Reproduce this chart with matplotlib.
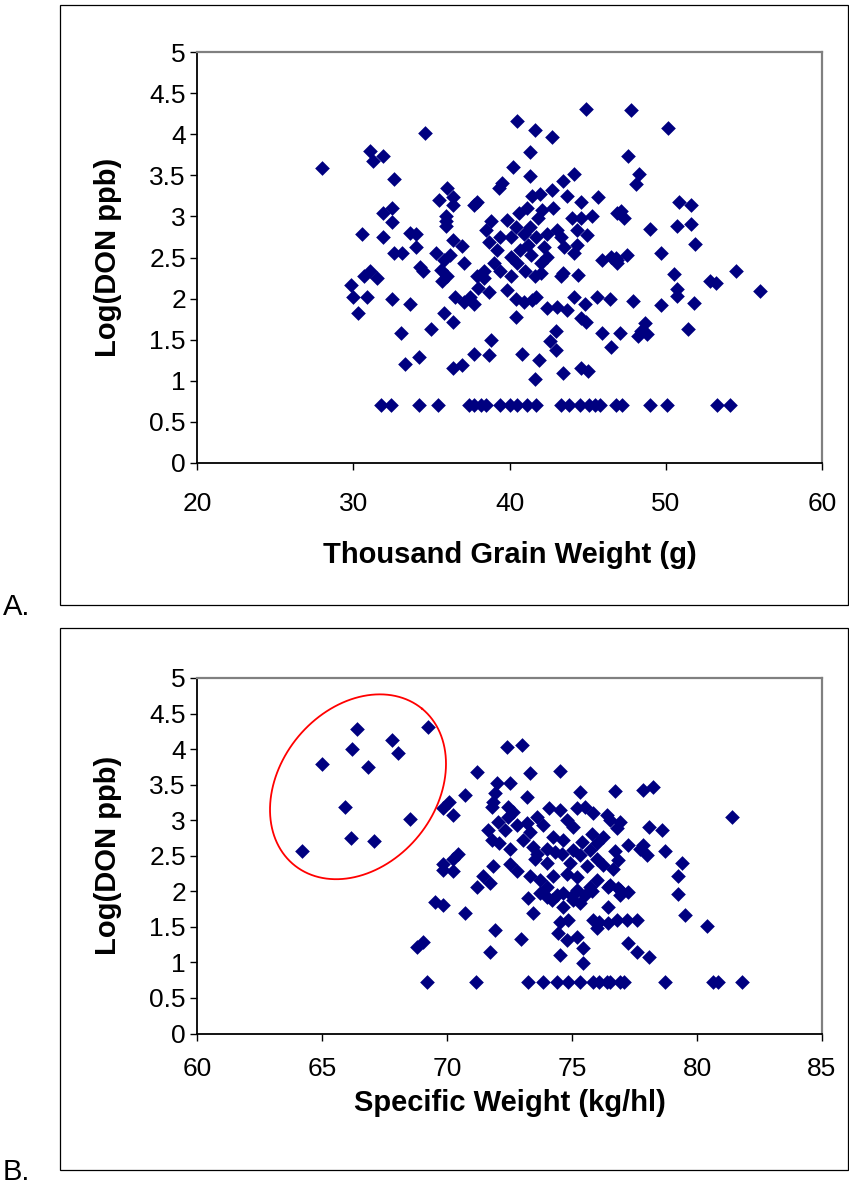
import numpy as np
import matplotlib
matplotlib.use("Agg")
import matplotlib.pyplot as plt
from matplotlib.patches import Rectangle

plt.rcParams['font.family'] = ['Liberation Sans', 'DejaVu Sans']

# ---------------- Panel A data: Thousand Grain Weight vs Log(DON) ----------------
tgw_x = [28.0, 31.1, 31.26, 31.9, 32.6, 31.9, 32.5, 32.5, 30.56, 31.9, 33.65, 32.6, 33.1,
         31.1, 31.5, 30.66, 29.85, 29.96, 30.3, 30.9, 32.5, 33.6, 33.06, 33.3, 34.2, 34.6,
         34.0, 34.0, 35.3, 34.3, 34.45, 35.6, 35.7, 36.0, 36.0, 35.5, 36.4, 36.4, 37.7, 37.9,
         35.96, 35.96, 35.96, 36.4, 36.97, 36.2, 35.8, 37.1, 35.0, 35.8, 36.4, 36.5, 37.07,
         37.5, 37.7, 38.0, 38.35, 38.7, 37.9, 36.4, 36.97, 37.7, 38.7, 38.8,
         40.5, 41.6, 42.7, 44.9, 41.3, 40.2, 41.3, 39.5, 39.3, 44.1, 43.4,
         41.45, 41.98, 42.7, 43.7, 44.55, 45.66,
         38.8, 38.5, 38.7, 39.4, 39.85, 39.2, 39.0, 39.4, 40.1, 40.1, 40.6, 41.1, 40.4, 40.9,
         41.3, 41.8, 41.7, 41.2, 40.7, 40.5, 41.4, 42.0, 42.4, 42.2, 42.4, 43.05, 42.8, 42.1,
         43.3, 43.5, 44.0, 44.55, 44.98, 44.3, 45.3, 44.1, 44.3, 43.4, 44.4, 38.35, 41.6, 41.0,
         40.1, 39.85, 40.4, 40.9, 41.45, 41.7, 42.0, 40.4, 42.4, 43.05, 43.7, 43.3,
         44.1, 44.8, 45.6, 46.4, 44.55, 44.9, 42.95, 42.6, 42.95, 45.9, 46.5,
         40.8, 41.9, 41.6, 43.4, 44.55, 45.0,
         47.76, 50.15, 47.6, 48.3, 48.1, 47.16, 47.3, 50.85, 51.6, 50.75, 51.6, 49.0, 51.9,
         49.7, 45.9, 46.5, 46.9, 46.9, 47.5, 46.9, 46.8, 50.5, 52.8, 53.2, 54.5, 50.7, 56.0,
         47.9, 50.7, 49.7, 51.8, 48.7, 48.4, 48.2, 48.8, 51.4, 47.07,
         31.8, 32.4, 34.2, 35.4, 37.4, 37.7, 38.2, 38.5, 39.4, 40.0, 40.5, 41.1, 41.7, 43.3,
         43.8, 44.5, 45.1, 45.5, 45.8, 46.8, 47.2, 49.0, 50.1, 53.3, 54.1]
tgw_y = [3.59, 3.79, 3.67, 3.73, 3.46, 3.04, 3.10, 2.93, 2.79, 2.75, 2.80, 2.56, 2.56,
         2.33, 2.25, 2.27, 2.17, 2.02, 1.82, 2.02, 2.00, 1.94, 1.58, 1.20, 1.29, 4.02,
         2.79, 2.63, 2.55, 2.39, 2.33, 2.35, 2.21, 2.27, 3.35, 3.20, 3.24, 3.14, 3.14, 3.18,
         3.00, 2.94, 2.88, 2.71, 2.64, 2.53, 2.47, 2.43, 1.63, 1.82, 1.72, 2.02, 1.96,
         2.02, 1.94, 2.13, 2.25, 2.08, 2.27, 1.15, 1.19, 1.33, 1.31, 1.50,
         4.16, 4.05, 3.97, 4.31, 3.78, 3.60, 3.49, 3.41, 3.35, 3.52, 3.43,
         3.25, 3.27, 3.32, 3.25, 3.17, 3.23,
         2.94, 2.83, 2.69, 2.75, 2.96, 2.59, 2.43, 2.33, 2.51, 2.75, 3.04, 3.10, 2.87, 2.79,
         2.87, 2.98, 2.75, 2.65, 2.59, 2.43, 2.53, 2.43, 2.51, 2.63, 2.79, 2.83, 3.10, 3.08,
         2.75, 2.63, 2.98, 2.98, 2.77, 2.83, 3.00, 2.55, 2.65, 2.31, 2.29, 2.33, 2.27, 2.33,
         2.27, 2.10, 2.00, 1.96, 1.98, 2.02, 2.31, 1.78, 1.88, 1.90, 1.86, 2.27,
         2.02, 1.94, 2.02, 2.00, 1.76, 1.72, 1.60, 1.48, 1.37, 1.58, 1.41,
         1.33, 1.25, 1.02, 1.10, 1.15, 1.12,
         4.29, 4.07, 3.73, 3.52, 3.40, 3.06, 2.98, 3.17, 3.14, 2.88, 2.91, 2.85, 2.66,
         2.56, 2.47, 2.51, 2.47, 3.04, 2.53, 2.43, 2.49, 2.30, 2.22, 2.19, 2.33, 2.12, 2.09,
         1.97, 2.03, 1.92, 1.95, 1.70, 1.60, 1.54, 1.57, 1.63, 1.58,
         0.70, 0.70, 0.70, 0.70, 0.70, 0.70, 0.70, 0.70, 0.70, 0.70, 0.70, 0.70, 0.70, 0.70,
         0.70, 0.70, 0.70, 0.70, 0.70, 0.70, 0.70, 0.70, 0.70, 0.70, 0.70]

# ---------------- Panel B data: Specific Weight vs Log(DON) ----------------
sw_x = [64.2, 65.0, 65.9, 66.15, 66.2, 66.41, 66.85, 67.1, 67.8, 68.05, 68.5, 69.24,
        72.4, 72.99, 71.2, 73.3, 74.5, 71.99, 72.5, 71.9, 70.7, 73.2, 75.3, 70.1, 69.85, 70.25,
        71.85, 71.8, 72.45, 72.65, 72.45, 74.1, 74.5, 75.2, 75.5, 75.85, 76.4,
        72.05, 72.3, 72.8, 73.2, 73.3, 73.85, 74.8, 75.05, 71.65, 71.8, 72.1, 72.5, 73.05,
        73.45, 73.6, 74.25, 74.65, 74.6, 75.05, 75.3, 75.7, 75.99, 76.25,
        69.85, 70.25, 70.45, 70.25, 71.85, 72.5, 72.8, 71.45, 71.7, 71.2, 73.3, 73.7, 73.99,
        74.25, 74.8, 74.65, 75.2, 75.7, 75.99, 73.7, 73.99,
        76.7, 77.85, 78.25, 81.4, 76.5, 76.9, 76.8, 78.1, 78.6, 77.25, 77.7, 77.85, 78.0,
        78.7, 76.7, 76.85, 76.25, 76.65, 79.4, 79.25, 79.25, 76.45, 76.9, 77.25,
        79.5, 80.4, 76.5, 76.85, 76.9, 76.45, 76.1, 76.45, 76.8, 77.2, 77.6, 77.25, 77.6, 78.1,
        69.5, 69.85, 68.8, 69.05, 70.7, 71.9, 71.7, 72.95, 73.45, 73.25, 74.5, 74.85, 74.5,
        74.45, 74.8, 75.2, 75.45, 75.45, 74.65, 75.05, 75.3, 75.85, 75.99, 69.85,
        74.4, 75.0, 75.5, 75.8, 74.2, 73.5, 74.0, 74.3, 75.6, 75.2, 74.0, 75.8, 74.9, 73.6,
        75.4, 76.0,
        69.2, 71.15, 73.25, 73.85, 74.4, 74.85, 75.3, 75.85, 76.1, 76.4, 76.5, 76.9, 77.1,
        78.7, 80.65, 80.85, 81.8]
sw_y = [2.56, 3.79, 3.18, 2.75, 4.00, 4.28, 3.75, 2.71, 4.13, 3.94, 3.02, 4.31,
        4.03, 4.06, 3.68, 3.66, 3.69, 3.52, 3.52, 3.38, 3.35, 3.33, 3.39, 3.26, 3.17, 3.07,
        3.26, 3.19, 3.19, 3.12, 3.05, 3.17, 3.14, 3.17, 3.19, 3.10, 3.07,
        2.98, 2.86, 2.93, 2.96, 2.84, 2.93, 3.00, 2.91, 2.86, 2.72, 2.68, 2.60, 2.72,
        2.63, 2.53, 2.77, 2.72, 2.53, 2.58, 2.51, 2.58, 2.68, 2.77,
        2.39, 2.46, 2.53, 2.28, 2.35, 2.39, 2.28, 2.21, 2.11, 2.06, 2.21, 2.16, 2.06,
        2.21, 2.25, 1.97, 2.02, 2.06, 2.16, 1.97, 1.92,
        3.41, 3.42, 3.47, 3.05, 3.00, 2.98, 2.89, 2.90, 2.86, 2.65, 2.60, 2.65, 2.51,
        2.56, 2.56, 2.44, 2.37, 2.32, 2.40, 2.22, 1.96, 2.06, 2.02, 1.99,
        1.67, 1.51, 2.09, 2.04, 1.95, 1.78, 1.57, 1.55, 1.60, 1.60, 1.60, 1.27, 1.14, 1.07,
        1.85, 1.81, 1.22, 1.28, 1.69, 1.46, 1.15, 1.33, 1.69, 1.90, 1.57, 1.60, 1.10,
        1.42, 1.31, 1.36, 1.20, 0.99, 1.78, 1.88, 1.83, 1.60, 1.48, 2.30,
        1.95, 1.93, 1.95, 2.00, 1.88, 2.45, 2.40, 2.55, 2.35, 2.20, 2.60, 2.80, 2.40, 3.05,
        2.70, 2.45,
        0.72, 0.72, 0.72, 0.72, 0.72, 0.72, 0.72, 0.72, 0.72, 0.72, 0.72, 0.72, 0.72,
        0.72, 0.72, 0.72, 0.72]

y_ticks = [0, 0.5, 1, 1.5, 2, 2.5, 3, 3.5, 4, 4.5, 5]
y_tick_labels = ["0", "0.5", "1", "1.5", "2", "2.5", "3", "3.5", "4", "4.5", "5"]
tgw_ticks = [20, 30, 40, 50, 60]
sw_ticks = [60, 65, 70, 75, 80, 85]

# highlighted group in panel B (ellipse: centre, semi-axes in display px, angle)
ell_center = (66.44, 3.47)
ell_axes_px = (101, 78)
ell_angle = 50.6

W, H = 849, 1188
fig = plt.figure(figsize=(W / 100, H / 100), dpi=100)

navy = '#000080'
TICK_FS = 19
LABEL_FS = 21


def style_axes(ax, xpad):
    for s in ['top', 'right']:
        ax.spines[s].set_color('#808080')
        ax.spines[s].set_linewidth(1.6)
    for s in ['left', 'bottom']:
        ax.spines[s].set_color('#000000')
        ax.spines[s].set_linewidth(1.3)
    ax.tick_params(direction='out', length=5, width=1.0, labelsize=TICK_FS, colors='black')
    ax.tick_params(axis='y', pad=3)
    ax.tick_params(axis='x', pad=xpad)
    ax.set_yticks(y_ticks)
    ax.set_yticklabels(y_tick_labels)
    ax.set_ylim(0, 5)
    ax.set_ylabel("Log(DON ppb)", fontsize=LABEL_FS, fontweight='bold',
                  va='center', ha='center')


# Panel A
a_h = 463 - 52
axA = fig.add_axes([197 / W, 1 - 463 / H, (822 - 197) / W, a_h / H])
axA.scatter(tgw_x, tgw_y, marker='D', s=56, color=navy, linewidths=0, zorder=3)
axA.set_xlim(20, 60)
axA.set_xticks(tgw_ticks)
style_axes(axA, 16)
axA.set_xlabel("Thousand Grain Weight (g)", fontsize=LABEL_FS, fontweight='bold',
               va='center')
axA.xaxis.set_label_coords(0.5, (463 - 555) / a_h)
axA.yaxis.set_label_coords((108 - 197) / 625, 0.5)

# Panel B
b_h = 1033.5 - 678
axB = fig.add_axes([197 / W, 1 - 1033.5 / H, (822 - 197) / W, b_h / H])
axB.scatter(sw_x, sw_y, marker='D', s=56, color=navy, linewidths=0, zorder=3)
axB.set_xlim(60, 85)
axB.set_xticks(sw_ticks)
style_axes(axB, 12)
axB.set_xlabel("Specific Weight (kg/hl)", fontsize=LABEL_FS, fontweight='bold',
               va='center')
axB.xaxis.set_label_coords(0.5, (1033.5 - 1103) / b_h)
axB.yaxis.set_label_coords((108 - 197) / 625, 0.5)

# ellipse drawn in display-proportional units then mapped to data
px_per_x = (822 - 197) / 25.0
px_per_y = b_h / 5.0
t = np.linspace(0, 2 * np.pi, 400)
a, b = ell_axes_px
th = np.deg2rad(ell_angle)
dx = a * np.cos(t) * np.cos(th) - b * np.sin(t) * np.sin(th)
dy = a * np.cos(t) * np.sin(th) + b * np.sin(t) * np.cos(th)
axB.plot(ell_center[0] + dx / px_per_x, ell_center[1] + dy / px_per_y,
         color='#ff0000', linewidth=1.3, zorder=4, clip_on=False)

# outer panel frames
fig.patches.append(Rectangle((60 / W, 1 - 605 / H), (848 - 60) / W, (605 - 5) / H,
                             transform=fig.transFigure, fill=False, edgecolor='black',
                             linewidth=0.9))
fig.patches.append(Rectangle((60 / W, 1 - 1170 / H), (848 - 60) / W, (1170 - 628) / H,
                             transform=fig.transFigure, fill=False, edgecolor='black',
                             linewidth=0.9))

fig.text(3 / W, 1 - 607 / H, "A.", fontsize=21, va='center', ha='left')
fig.text(3 / W, 1 - 1172 / H, "B.", fontsize=21, va='center', ha='left')

fig.savefig("out.png", dpi=100)
